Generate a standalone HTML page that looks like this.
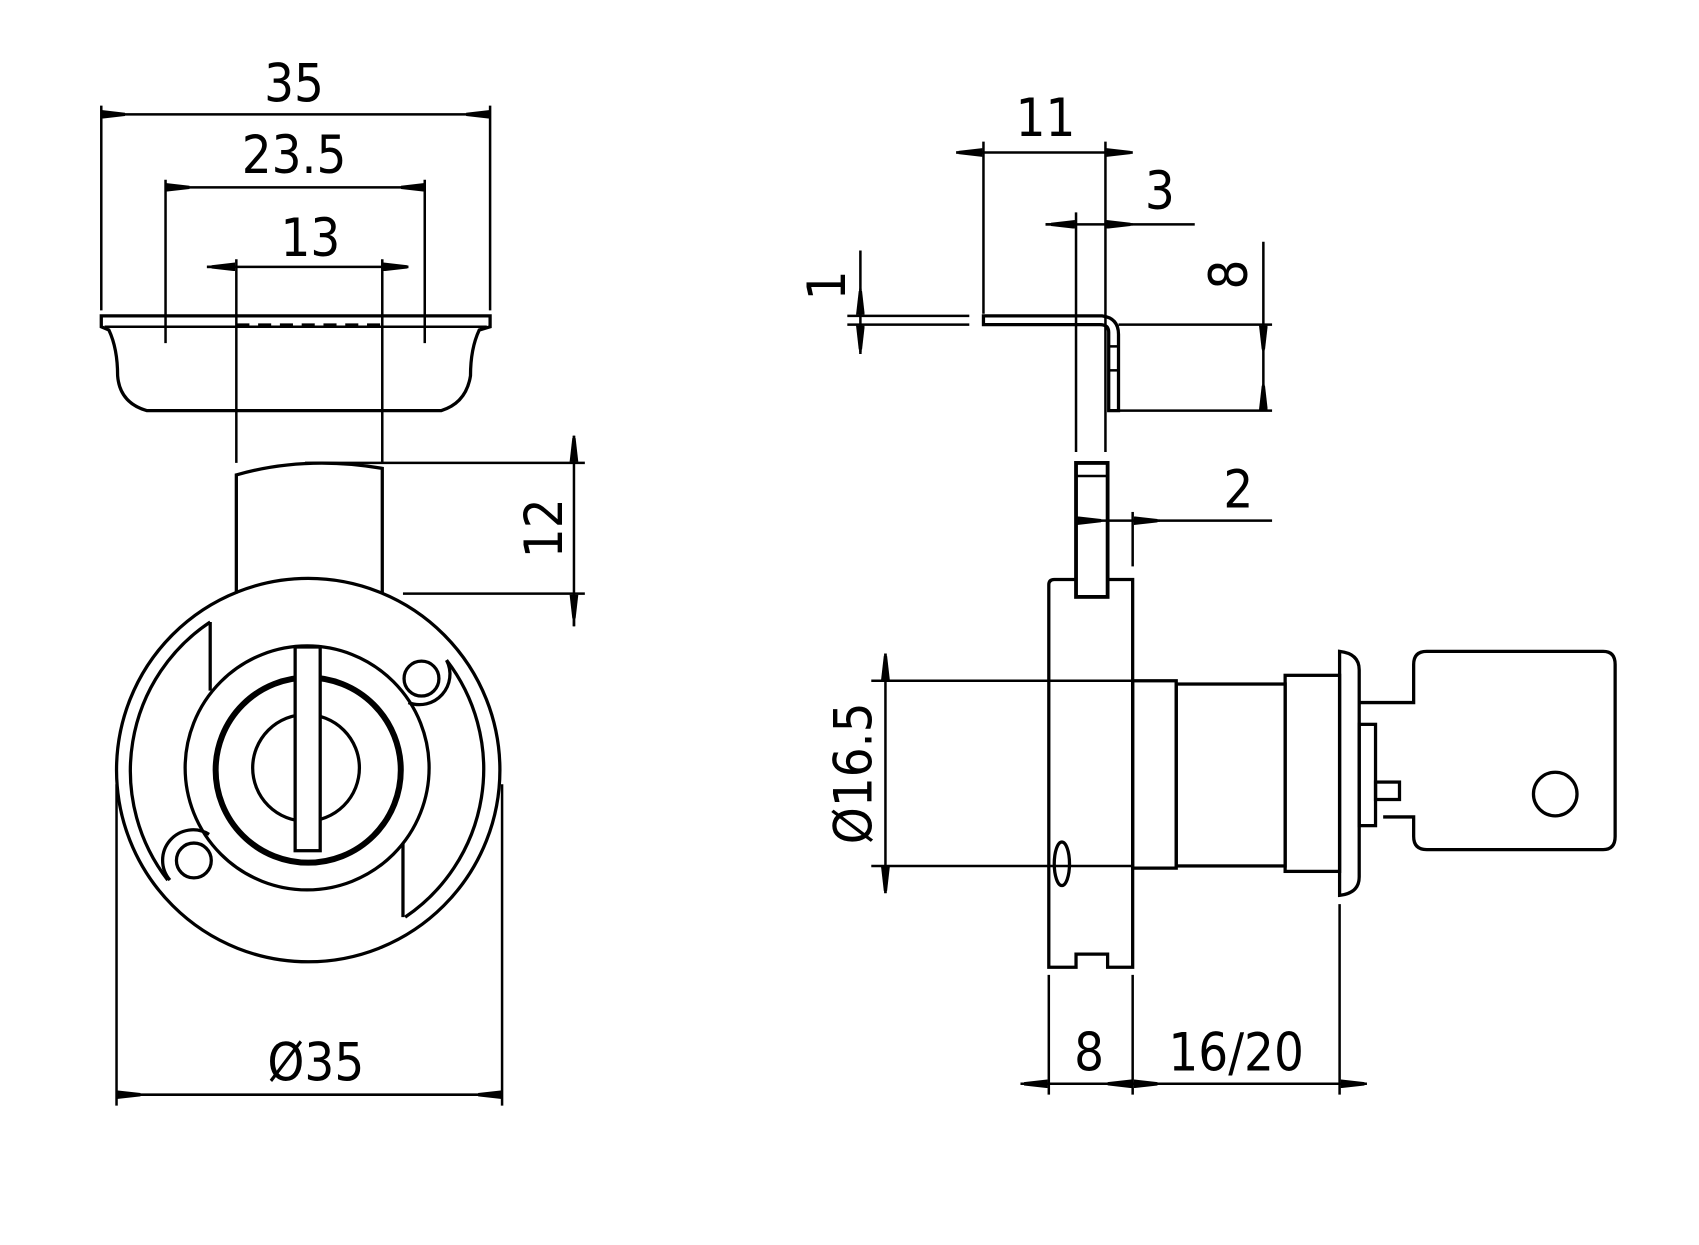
<!DOCTYPE html>
<html><head><meta charset="utf-8"><style>
html,body{margin:0;padding:0;background:#fff;width:1699px;height:1245px;overflow:hidden}
svg{display:block}
text{font-family:"DejaVu Sans Condensed","Liberation Sans Narrow","Liberation Sans",sans-serif;fill:#000}
</style></head><body>
<svg width="1699" height="1245" viewBox="0 0 1560 1143" preserveAspectRatio="none" xmlns="http://www.w3.org/2000/svg">
<defs>
<marker id="a" viewBox="0 0 22 8" refX="22" refY="4" markerWidth="22" markerHeight="8" markerUnits="userSpaceOnUse" orient="auto"><path d="M0,2.5 L22,0 L22,8 L0,5.5 Z" fill="#000"/></marker>
</defs>
<g fill="none" stroke="#000" stroke-width="2.3">
<line x1="93" y1="97" x2="93" y2="285"/><line x1="450" y1="97" x2="450" y2="285"/>
<line x1="93" y1="105" x2="450" y2="105"/>
<path d="M115,105 L93,105" marker-end="url(#a)"/><path d="M428,105 L450,105" marker-end="url(#a)"/>
<line x1="152" y1="165" x2="152" y2="315"/><line x1="390" y1="165" x2="390" y2="315"/>
<line x1="152" y1="172" x2="390" y2="172"/>
<path d="M174,172 L152,172" marker-end="url(#a)"/><path d="M368,172 L390,172" marker-end="url(#a)"/>
<line x1="217" y1="238" x2="217" y2="425"/><line x1="351" y1="238" x2="351" y2="425"/>
<line x1="190" y1="245" x2="375" y2="245"/>
<path d="M190,245 L216,245" marker-end="url(#a)"/><path d="M375,245 L352,245" marker-end="url(#a)"/>
<path d="M93,300 L93,290 L450,290 L450,300 L440,303 Q432,320 432,345 Q428,370 405,377 L135,377 Q110,370 108,345 Q108,320 100,303 Z" stroke-width="3"/>
<line x1="96" y1="300" x2="447" y2="300"/>
<line x1="217" y1="298" x2="351" y2="298" stroke-dasharray="12,8"/>
<path d="M217,545 L217,436 Q280,418 351,430 L351,545" stroke-width="3"/>
<line x1="280" y1="425" x2="537" y2="425"/><line x1="370" y1="545" x2="537" y2="545"/>
<line x1="527" y1="400" x2="527" y2="575"/>
<path d="M527,400 L527,424" marker-end="url(#a)"/><path d="M527,575 L527,546" marker-end="url(#a)"/>
<circle cx="283" cy="707" r="176" stroke-width="3"/>
<path d="M193,571 A164,164 0 0 0 154,808" stroke-width="3"/>
<line x1="193" y1="571" x2="193" y2="634" stroke-width="3"/>
<path d="M410,606 A164,164 0 0 1 372,842" stroke-width="3"/>
<line x1="370" y1="774" x2="370" y2="842" stroke-width="3"/>
<circle cx="282" cy="705" r="112" stroke-width="3"/>
<circle cx="283" cy="707" r="85" stroke-width="5.5"/>
<circle cx="281" cy="705" r="49" stroke-width="3"/>
<circle cx="283" cy="725" r="11" fill="#000"/>
<rect x="271" y="594" width="23" height="187" fill="#fff" stroke-width="3"/>
<circle cx="387" cy="623" r="16" stroke-width="3"/>
<path d="M375,645 A28,28 0 0 0 410,606" stroke-width="3"/>
<circle cx="178" cy="790" r="16" stroke-width="3"/>
<path d="M192,766 A28,28 0 0 0 156,808" stroke-width="3"/>
<line x1="107" y1="720" x2="107" y2="1015"/><line x1="461" y1="720" x2="461" y2="1015"/>
<line x1="107" y1="1005" x2="461" y2="1005"/>
<path d="M129,1005 L107,1005" marker-end="url(#a)"/><path d="M439,1005 L461,1005" marker-end="url(#a)"/>

<line x1="903" y1="130" x2="903" y2="288"/><line x1="1015" y1="130" x2="1015" y2="415"/>
<line x1="878" y1="140" x2="1040" y2="140"/>
<path d="M878,140 L902,140" marker-end="url(#a)"/><path d="M1040,140 L1016,140" marker-end="url(#a)"/>
<line x1="988" y1="195" x2="988" y2="415"/>
<line x1="960" y1="206" x2="1097" y2="206"/>
<path d="M960,206 L987,206" marker-end="url(#a)"/><path d="M1040,206 L1016,206" marker-end="url(#a)"/>
<line x1="778" y1="290" x2="890" y2="290"/><line x1="778" y1="298" x2="890" y2="298"/>
<line x1="790" y1="230" x2="790" y2="325"/>
<path d="M790,265 L790,289" marker-end="url(#a)"/><path d="M790,323 L790,299" marker-end="url(#a)"/>
<path d="M903,290 L1012,290 Q1027,292 1027,307 L1027,377 L1018,377 L1018,305 Q1018,298 1010,298 L903,298 Z" stroke-width="3"/>
<line x1="1018" y1="318" x2="1027" y2="318"/><line x1="1018" y1="340" x2="1027" y2="340"/>
<line x1="1027" y1="298" x2="1168" y2="298"/><line x1="1027" y1="377" x2="1168" y2="377"/>
<line x1="1160" y1="222" x2="1160" y2="377"/>
<path d="M1160,322 L1160,299" marker-end="url(#a)"/><path d="M1160,353 L1160,376" marker-end="url(#a)"/>
<rect x="988" y="425" width="29" height="123" stroke-width="3.5"/>
<line x1="988" y1="437" x2="1017" y2="437"/>
<line x1="1040" y1="470" x2="1040" y2="520"/>
<line x1="988" y1="478" x2="1168" y2="478"/>
<path d="M1012,478 L989,478" marker-end="url(#a)"/><path d="M1065,478 L1041,478" marker-end="url(#a)"/>
<path d="M988,532 L968,532 Q963,532 963,537 L963,888 L988,888 L988,876 L1017,876 L1017,888 L1040,888 L1040,532 L1017,532" stroke-width="3"/>
<ellipse cx="975" cy="793" rx="7" ry="20" stroke-width="3"/>
<rect x="1040" y="625" width="40" height="172" stroke-width="3"/>
<rect x="1080" y="628" width="100" height="167" stroke-width="3"/>
<rect x="1180" y="620" width="50" height="180" stroke-width="3"/>
<path d="M1230,598 Q1248,600 1248,615 L1248,805 Q1248,820 1230,822 Z" stroke-width="3"/>
<path d="M1248,645 L1298,645 L1298,610 Q1298,598 1310,598 L1472,598 Q1483,598 1483,610 L1483,768 Q1483,780 1472,780 L1310,780 Q1298,780 1298,768 L1298,750 L1270,750" stroke-width="3"/>
<rect x="1248" y="665" width="15" height="93" stroke-width="3"/>
<rect x="1263" y="718" width="22" height="16" stroke-width="3"/>
<circle cx="1428" cy="729" r="20" stroke-width="3"/>
<line x1="800" y1="625" x2="1040" y2="625"/><line x1="800" y1="795" x2="1040" y2="795"/>
<line x1="813" y1="600" x2="813" y2="820"/>
<path d="M813,600 L813,624" marker-end="url(#a)"/><path d="M813,820 L813,796" marker-end="url(#a)"/>
<line x1="963" y1="895" x2="963" y2="1005"/><line x1="1040" y1="895" x2="1040" y2="1005"/><line x1="1230" y1="830" x2="1230" y2="1005"/>
<line x1="937" y1="995" x2="1255" y2="995"/>
<path d="M937,995 L962,995" marker-end="url(#a)"/><path d="M1017,995 L1039,995" marker-end="url(#a)"/>
<path d="M1063,995 L1041,995" marker-end="url(#a)"/><path d="M1255,995 L1231,995" marker-end="url(#a)"/>
</g>
<g font-size="48" text-anchor="middle">
<text x="270" y="93">35</text>
<text x="270" y="159">23.5</text>
<text x="285" y="235">13</text>
<text x="290" y="992">Ø35</text>
<text x="960" y="125">11</text>
<text x="1065" y="192">3</text>
<text x="1137" y="466">2</text>
<text x="1000" y="983">8</text>
<text x="1135" y="983">16/20</text>
<text transform="translate(516,485) rotate(-90)">12</text>
<text transform="translate(776,262) rotate(-90)">1</text>
<text transform="translate(1145,252) rotate(-90)">8</text>
<text transform="translate(800,710) rotate(-90)">Ø16.5</text>
</g>
</svg>
</body></html>
